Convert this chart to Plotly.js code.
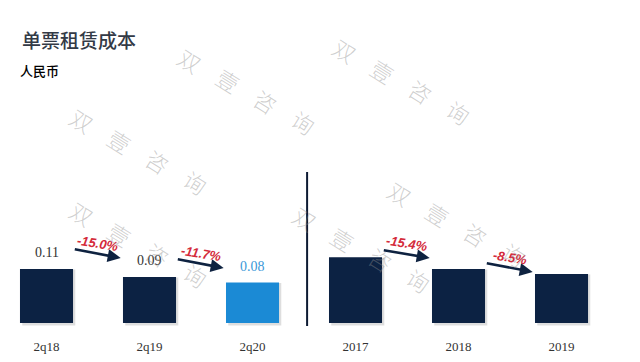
<!DOCTYPE html>
<html><head><meta charset="utf-8">
<script src="https://cdn.plot.ly/plotly-3.0.1.min.js"></script>
<style>html,body{margin:0;padding:0;background:#fff}#chart{width:640px;height:362px}</style>
</head><body><div id="chart"></div>
<script>
// ---- data ----
const categories = ['2q18', '2q19', '2q20', '2017', '2018', '2019'];
const costValues = [0.107, 0.091, 0.080, 0.130, 0.107, 0.097];
const changeLabels = ['-15.0%', '-11.7%', '-15.4%', '-8.5%'];
const changeFrom = [0, 1, 3, 4];
const changeTo = [1, 2, 4, 5];
const titleText = '单票租赁成本';
const unitText = '人民币';
const watermarkChars = ['双', '壹', '咨', '询'];

// ---- style / layout config ----
const NAVY = '#0c2243';
const LIGHT = '#1b8ad5';
const highlightIndex = 2;
const arrowTailY = [0.1465, 0.1267, 0.1446, 0.1188];
const arrowHeadY = [0.1287, 0.1089, 0.1287, 0.1010];
const watermarkStarts = [[82,120],[190,60],[345,50],[82,213],[305,218],[400,193]];
const W = 640, H = 362, MT = 20, MB = 36;
const plotH = H - MT - MB;
const SCALE = 505;        // px per unit
const YMIN = -0.006;

const barColors = categories.map((c, i) => i === highlightIndex ? LIGHT : NAVY);
const labelColors = categories.map((c, i) => i === highlightIndex ? '#3a98d8' : '#333333');

const traces = [{
  type: 'bar',
  x: categories,
  y: costValues.map(v => v + 0.004),
  base: -0.005,
  width: 0.515,
  offset: -0.2575 + 0.022,
  marker: {color: 'rgba(0,0,0,0.13)', line: {width: 0}},
  hoverinfo: 'skip'
}, {
  type: 'bar',
  x: categories,
  y: costValues,
  width: 0.515,
  marker: {color: barColors, line: {width: 0}},
  hoverinfo: 'skip'
}];

const annotations = [];
// value labels
categories.forEach((c, i) => {
  annotations.push({
    x: c, y: costValues[i], xref: 'x', yref: 'y',
    text: costValues[i].toFixed(2), showarrow: false,
    yanchor: 'bottom', yshift: 7,
    font: {family: '"Liberation Serif", "DejaVu Serif", serif', size: 14, color: labelColors[i]}
  });
});
// change arrows and percentages
changeLabels.forEach((lab, k) => {
  const a = changeFrom[k], b = changeTo[k];
  annotations.push({
    xref: 'x', yref: 'y', axref: 'x', ayref: 'y',
    x: b - 0.28, y: arrowHeadY[k],
    ax: a + 0.26, ay: arrowTailY[k],
    text: '', showarrow: true,
    arrowhead: 2, arrowsize: 1, arrowwidth: 2.6, arrowcolor: '#0e2240'
  });
  annotations.push({
    xref: 'x', yref: 'y',
    x: (a + b) / 2, y: (arrowTailY[k] + arrowHeadY[k]) / 2 + 0.020,
    text: '<b><i>' + lab + '</i></b>', showarrow: false,
    textangle: 9,
    font: {family: '"Liberation Sans", Arial, sans-serif', size: 13, color: '#d42a3a'}
  });
});
// unit label
annotations.push({
  xref: 'paper', yref: 'paper', x: 18 / W, y: (H - MB - 70) / plotH,
  xanchor: 'left', yanchor: 'middle', showarrow: false,
  text: unitText,
  font: {family: '"Noto Sans CJK SC", sans-serif', size: 13, color: '#000000', weight: 500}
});
// watermark
watermarkStarts.forEach(s => {
  watermarkChars.forEach((ch, j) => {
    const px = s[0] + j * 38, py = s[1] + j * 20.5;
    annotations.push({
      xref: 'paper', yref: 'paper', x: px / W, y: (H - MB - py) / plotH,
      xanchor: 'center', yanchor: 'middle', showarrow: false,
      text: ch, textangle: 32,
      font: {family: '"Noto Sans CJK SC", sans-serif', size: 22, color: 'rgba(140,140,140,0.42)', weight: 300}
    });
  });
});

const layout = {
  width: W, height: H,
  margin: {l: 0, r: 0, t: MT, b: MB},
  paper_bgcolor: '#ffffff', plot_bgcolor: '#ffffff',
  showlegend: false,
  barmode: 'overlay',
  title: {
    text: titleText, xref: 'container', yref: 'container',
    x: 22 / W, xanchor: 'left', y: 1 - 41 / H, yanchor: 'middle',
    font: {family: '"Noto Sans CJK SC", sans-serif', size: 19, color: '#333a46', weight: 500}
  },
  xaxis: {
    type: 'category', range: [-0.4515, 5.762],
    showgrid: false, zeroline: false, showline: false, ticks: '',
    ticklabelstandoff: 11,
    tickfont: {family: '"Liberation Serif", "DejaVu Serif", serif', size: 13, color: '#333333'},
    fixedrange: true
  },
  yaxis: {
    range: [YMIN, YMIN + plotH / SCALE], visible: false, showgrid: false, zeroline: false, fixedrange: true
  },
  shapes: [{
    type: 'line', xref: 'x', yref: 'y', x0: 2.53, x1: 2.53, y0: -0.01, y1: 0.299,
    line: {color: '#0d1a33', width: 2}
  }],
  annotations: annotations
};

Plotly.newPlot('chart', traces, layout, {displayModeBar: false, staticPlot: true});
</script>
</body></html>
